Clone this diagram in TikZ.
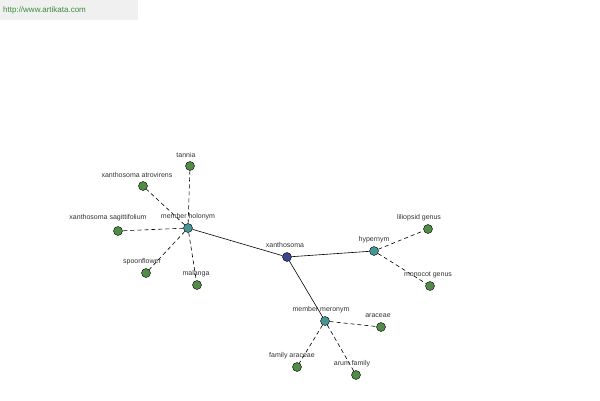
\documentclass[tikz,border=0pt]{standalone}
\usepackage{fontspec}
\setmainfont{Liberation Sans}
\usetikzlibrary{positioning}
\definecolor{leafgreen}{RGB}{80,140,70}
\definecolor{hubteal}{RGB}{70,150,150}
\definecolor{rootblue}{RGB}{60,70,140}
\definecolor{linkgreen}{RGB}{60,140,60}
\begin{document}
\begin{tikzpicture}[
    x=1pt, y=-1pt,
    dot/.style={circle, draw=black, line width=0.4pt, minimum size=9pt, inner sep=0pt},
    leaf/.style={dot, fill=leafgreen},
    hub/.style={dot, fill=hubteal},
    root/.style={dot, fill=rootblue},
    lbl/.style={font=\fontsize{7}{8}\selectfont, text=black!80, inner sep=0pt},
    link/.style={line width=0.6pt},
    sub/.style={line width=0.6pt, dash pattern=on 4pt off 3pt}
]
\useasboundingbox (0,0) rectangle (600,400);
\fill[black!6] (0,0) rectangle (138,20);
\node[font=\fontsize{8}{9}\selectfont, text=linkgreen, anchor=west, inner sep=0pt] (url) at (3,10) {http://www.artikata.com};

% Centre and hubs
\node[root] (xan) at (287,257) {};
\node[hub] (hol) at (188,228) {};
\node[hub] (hyp) at (374,251) {};
\node[hub] (mer) at (325,321) {};

% Leaves
\node[leaf] (tannia) at (190,166) {};
\node[leaf] (atro) at (143,186) {};
\node[leaf] (sagi) at (118,231) {};
\node[leaf] (spoon) at (146,273) {};
\node[leaf] (malanga) at (197,285) {};
\node[leaf] (lili) at (428,229) {};
\node[leaf] (mono) at (430,286) {};
\node[leaf] (arac) at (381,327) {};
\node[leaf] (famarac) at (297,367) {};
\node[leaf] (arum) at (356,375) {};

% Edges
\draw[link] (xan) -- (hol);
\draw[link] (xan) -- (hyp);
\draw[link] (xan) -- (mer);
\foreach \n in {tannia,atro,sagi,spoon,malanga}
    \draw[sub] (hol) -- (\n);
\foreach \n in {lili,mono}
    \draw[sub] (hyp) -- (\n);
\foreach \n in {arac,famarac,arum}
    \draw[sub] (mer) -- (\n);

% Labels
\node[lbl] at (285,245) {xanthosoma};
\node[lbl] at (188,217) {member holonym};
\node[lbl] at (374,240) {hypernym};
\node[lbl] at (321,310) {member meronym};
\node[lbl] at (186,155) {tannia};
\node[lbl] at (137,175) {xanthosoma atrovirens};
\node[lbl] at (108,218) {xanthosoma sagittifolium};
\node[lbl] at (142,262) {spoonflower};
\node[lbl] at (196,274) {malanga};
\node[lbl] at (419,218) {liliopsid genus};
\node[lbl] at (428,275) {monocot genus};
\node[lbl] at (378,316) {araceae};
\node[lbl] at (292,356) {family araceae};
\node[lbl] at (352,364) {arum family};
\end{tikzpicture}
\end{document}
